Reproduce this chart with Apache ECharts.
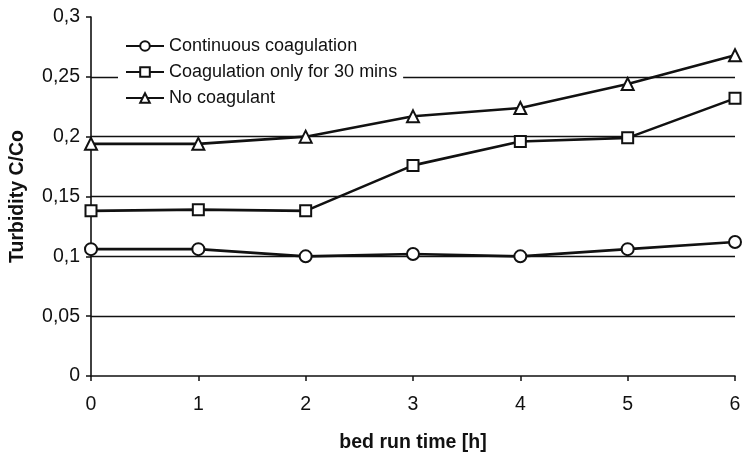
<!DOCTYPE html>
<html><head><meta charset="utf-8">
<script src="https://cdn.jsdelivr.net/npm/echarts@6/dist/echarts.min.js"></script>
<style>html,body{margin:0;padding:0;background:#fff}#c{width:744px;height:458px}</style>
</head><body><div id="c"></div>
<script>
const hours = [0, 1, 2, 3, 4, 5, 6];
const continuous = [0.106, 0.106, 0.100, 0.102, 0.100, 0.106, 0.112];
const only30 = [0.138, 0.139, 0.138, 0.176, 0.196, 0.199, 0.232];
const noCoag = [0.194, 0.194, 0.200, 0.217, 0.224, 0.244, 0.268];
const gridValues = [0.05, 0.1, 0.15, 0.2, 0.25];
const names = ['Continuous coagulation', 'Coagulation only for 30 mins', 'No coagulant'];
const symbols = ['emptyCircle', 'emptyRect', 'emptyTriangle'];

const font = 'Liberation Sans, Arial, sans-serif';
const chart = echarts.init(document.getElementById('c'));
const mk = (name, vals, sym, i) => ({
  name, type: 'line', data: hours.map((h, k) => [h, vals[k]]),
  symbol: sym, symbolSize: sym === 'emptyRect' ? 11 : 12,
  lineStyle: {color: '#111', width: 2.6},
  itemStyle: {color: '#111', borderColor: '#111', borderWidth: 1.6},
  z: 3,
  markLine: i === 0 ? {
    silent: true, symbol: 'none', label: {show: false},
    lineStyle: {color: '#111', width: 1.4, type: 'solid'},
    data: gridValues.map(v => ({yAxis: v})), z: 1
  } : undefined
});
chart.setOption({
  animation: false,
  textStyle: {fontFamily: font},
  grid: {left: 91, right: 9, top: 17, bottom: 82},
  legend: {
    orient: 'vertical', left: 118, top: 34,
    data: names, itemWidth: 38, itemHeight: 12, itemGap: 8,
    padding: [3, 6, 3, 7], backgroundColor: '#fff',
    textStyle: {fontFamily: font, fontSize: 18, color: '#111'},
    itemStyle: {borderWidth: 1.6}
  },
  xAxis: {
    type: 'value', min: 0, max: 6, interval: 1,
    name: 'bed run time [h]', nameLocation: 'middle', nameGap: 57,
    nameTextStyle: {fontFamily: font, fontSize: 19.5, fontWeight: 'bold', color: '#111'},
    axisLine: {lineStyle: {color: '#111', width: 1.6}},
    axisTick: {show: true, length: 5, lineStyle: {color: '#111', width: 1.5}},
    axisLabel: {fontSize: 19.5, color: '#111', margin: 19},
    splitLine: {show: false}
  },
  yAxis: {
    type: 'value', min: 0, max: 0.3, interval: 0.05,
    name: 'Turbidity C/Co', nameLocation: 'middle', nameGap: 63,
    nameTextStyle: {fontFamily: font, fontSize: 19.5, fontWeight: 'bold', color: '#111'},
    axisLine: {show: true, lineStyle: {color: '#111', width: 1.6}},
    axisTick: {show: true, length: 5, lineStyle: {color: '#111', width: 1.5}},
    axisLabel: {fontSize: 19.5, color: '#111', margin: 11,
      formatter: v => String(Math.round(v * 100) / 100).replace('.', ',')},
    splitLine: {show: false}
  },
  series: [
    mk(names[0], continuous, symbols[0], 0),
    mk(names[1], only30, symbols[1], 1),
    mk(names[2], noCoag, symbols[2], 2)
  ]
});
</script></body></html>
